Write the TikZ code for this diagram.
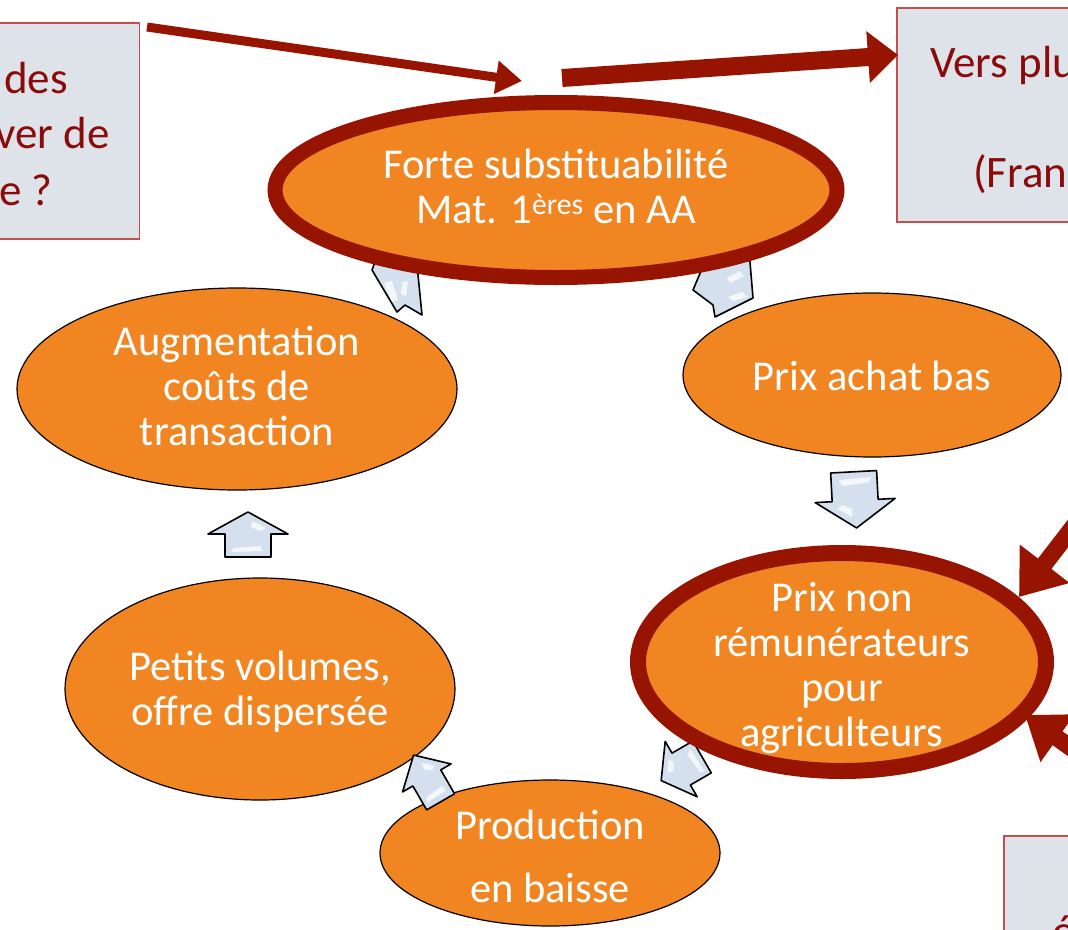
\documentclass[tikz,border=0pt]{standalone}
\usepackage{fontspec}
\setmainfont{Carlito}
\usetikzlibrary{arrows.meta,shapes.geometric}
\definecolor{ring}{HTML}{961400}
\definecolor{orng}{HTML}{F08522}
\definecolor{boxfill}{HTML}{DEE3EA}
\definecolor{boxline}{HTML}{C0504D}
\definecolor{boxtext}{HTML}{8B0A0A}
\definecolor{arrowblue}{HTML}{D4E0EE}
\begin{document}
\begin{tikzpicture}[x=1pt,y=-1pt,
  oval/.style={ellipse, fill=orng, draw=black, line width=1.2pt, inner sep=0pt},
  ringoval/.style={ellipse, fill=orng, draw=ring, inner sep=0pt},
  ovaltxt/.style={text=white, font=\fontsize{42.5}{45}\selectfont, align=center, inner sep=0pt},
  box/.style={rectangle, fill=boxfill, draw=boxline, line width=1.5pt, inner sep=0pt},
  boxtxt/.style={text=boxtext, font=\fontsize{45}{56}\selectfont, inner sep=0pt},
  redarrow/.style={draw=ring, line cap=butt},
  bluepoly/.style={fill=arrowblue, draw=black, line width=1.6pt, line join=round},
  gloss/.style={fill=white, opacity=.75},
  barrow/.pic={
    \draw[bluepoly]
      (0,-24) -- (40,-2) -- (23,-2) -- (23,21) -- (-23,21) -- (-23,-2) -- (-40,-2) -- cycle;
    \fill[gloss] (4,-15) -- (18,-8) -- (12,-5) -- (3,-9) -- cycle;
    \fill[gloss] (-15,12) -- (12,10) -- (15,15) -- (-17,16) -- cycle;
  }]
\useasboundingbox (0,0) rectangle (1068,929);
\clip (0,0) rectangle (1068,929);

% grey boxes
\node[box, minimum width=160pt, minimum height=216pt, anchor=north east] (boxL) at (140,22) {};
\node[box, minimum width=190pt, minimum height=214pt, anchor=north west] (boxR) at (896,7) {};
\node[box, minimum width=90pt, minimum height=110pt, anchor=north west] (boxB) at (1003,835) {};
\node[boxtxt, anchor=base east] (tL1) at (68,93) {des};
\node[boxtxt, anchor=base east] (tL2) at (110,148) {ver de};
\node[boxtxt, anchor=base east] (tL3) at (53,205) {e ?};
\node[boxtxt, anchor=base west] (tR1) at (930,77) {Vers plu};
\node[boxtxt, anchor=base west] (tR2) at (973,187) {(Fran};
\node[boxtxt, anchor=base west] (tB1) at (1052,946) {é};

% plain ellipses
\node[oval, minimum width=378pt, minimum height=164pt] (achat) at (872,375) {};
\node[oval, minimum width=440pt, minimum height=202pt] (augm) at (237,389) {};
\node[oval, minimum width=390pt, minimum height=222pt] (petits) at (260,689) {};
\node[oval, minimum width=340pt, minimum height=146pt] (prod) at (550,853) {};

% block arrows
\draw[bluepoly] (383,240) -- (372,270) -- (397,312) -- (405,305) -- (422,315) -- (417,265) -- (400,240) -- cycle;
\fill[gloss] (384,283) -- (392,281) -- (398,300) -- (392,302) -- cycle;
\fill[gloss] (402,282) -- (408,281) -- (406,296) -- (401,294) -- cycle;
\draw[bluepoly] (712,245) -- (693,290) -- (713,305) -- (715,317) -- (753,298) -- (750,262) -- (735,245) -- cycle;
\fill[gloss] (727,278) -- (740,271) -- (744,276) -- (730,283) -- cycle;
\fill[gloss] (728,297) -- (742,292) -- (748,297) -- (733,301) -- cycle;
\pic[rotate=183, yscale=1.25] at (855,498) {barrow};
\pic at (248,536) {barrow};
\pic[rotate=120, xscale=.8, yscale=1.05] at (683,768) {barrow};
\pic[rotate=30, xscale=.7, yscale=1.2] at (428,780) {barrow};

% ringed ellipses
\node[ringoval, line width=15pt, minimum width=562pt, minimum height=175pt] (forte) at (556,190) {};
\node[ringoval, line width=16pt, minimum width=408pt, minimum height=218pt] (prixnon) at (842,662) {};

% texts
\node[ovaltxt] (tforte) at ([yshift=4pt]forte.center) {Forte substituabilité\\Mat. 1\textsuperscript{ères} en AA};
\node[ovaltxt] (tachat) at ([yshift=-1pt]achat.center) {Prix achat bas};
\node[ovaltxt] (tprixnon) at ([yshift=-6pt]prixnon.center) {Prix non\\rémunérateurs\\pour\\agriculteurs};
\node[ovaltxt] (tprod) at ([yshift=-3pt]prod.center) {Production\\[18pt]en baisse};
\node[ovaltxt] (tpetits) at ([yshift=-3pt]petits.center) {Petits volumes,\\offre dispersée};
\node[ovaltxt] (taugm) at ([yshift=3pt]augm.center) {Augmentation\\coûts de\\transaction};

% dark red arrows
\coordinate (a1s) at (147,27);
\coordinate (a1e) at (522,81);
\coordinate (a2s) at (562,78);
\coordinate (a2e) at (898,55);
\coordinate (a3s) at (1090,505);
\coordinate (a3e) at (1019,597);
\coordinate (a4s) at (1095,765);
\coordinate (a4e) at (1025,715);
\draw[redarrow, line width=9pt, -{Triangle[length=26pt,width=32pt]}] (a1s) -- (a1e);
\draw[redarrow, line width=18pt, -{Triangle[length=30pt,width=50pt]}] (a2s) -- (a2e);
\draw[redarrow, line width=17pt, -{Triangle[length=42pt,width=60pt]}] (a3s) -- (a3e);
\draw[redarrow, line width=17pt, -{Triangle[length=40pt,width=56pt]}] (a4s) -- (a4e);
\end{tikzpicture}
\end{document}
